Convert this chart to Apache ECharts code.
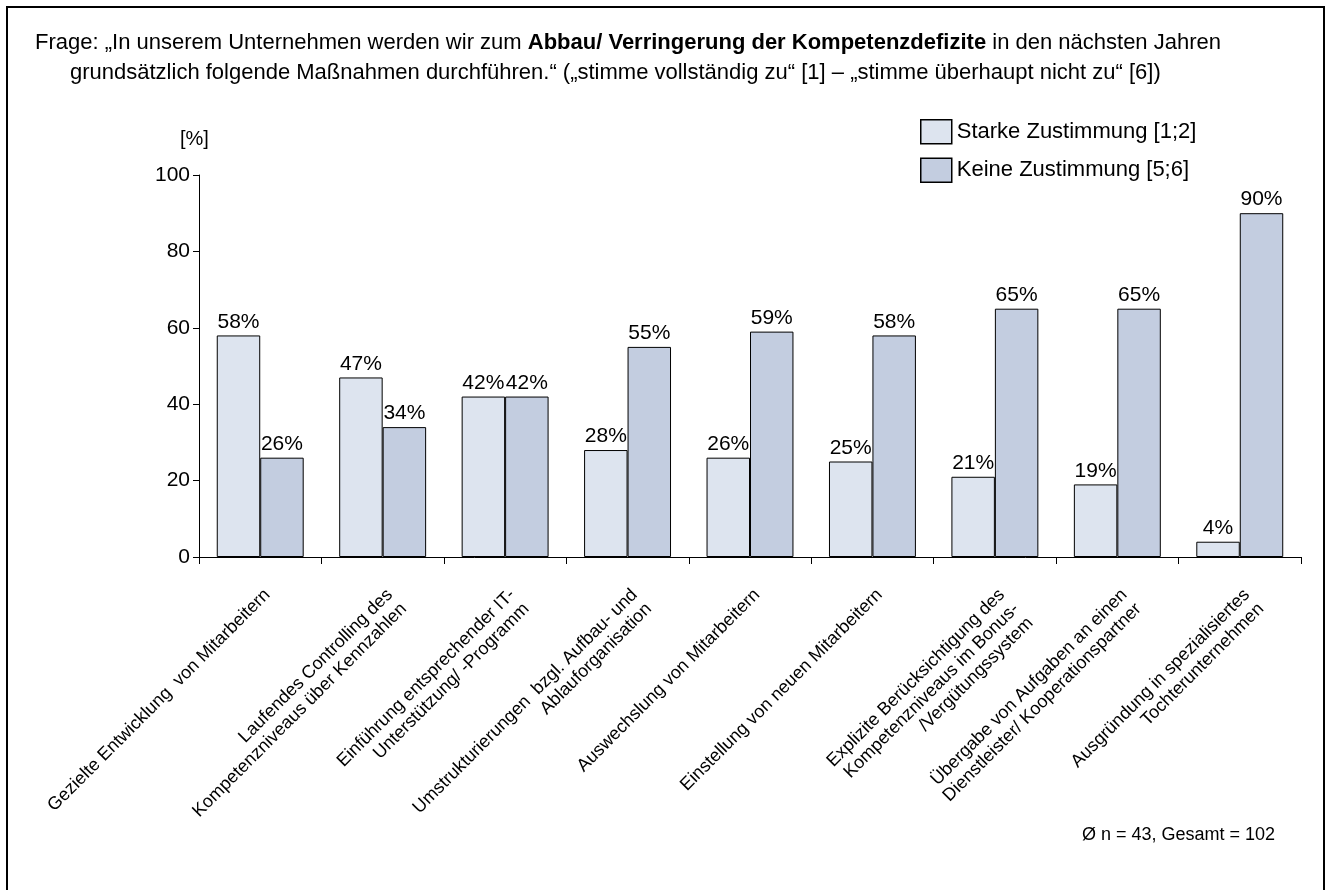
<!DOCTYPE html>
<html>
<head>
<meta charset="utf-8">
<script src="https://cdn.jsdelivr.net/npm/echarts@6.0.0/dist/echarts.min.js"></script>
<style>
  html, body { margin: 0; padding: 0; background: #fff; }
  #main { width: 1328px; height: 890px; }
</style>
</head>
<body>
<div id="main"></div>
<script>
// Kategorien (Maßnahmen)
var categories = [
  'Gezielte Entwicklung  von Mitarbeitern',
  'Laufendes Controlling des\nKompetenzniveaus über Kennzahlen',
  'Einführung entsprechender IT-\nUnterstützung/ -Programm',
  'Umstrukturierungen  bzgl. Aufbau- und\nAblauforganisation',
  'Auswechslung von Mitarbeitern',
  'Einstellung von neuen Mitarbeitern',
  'Explizite Berücksichtigung des\nKompetenzniveaus im Bonus-\n/Vergütungssystem',
  'Übergabe von Aufgaben an einen\nDienstleister/ Kooperationspartner',
  'Ausgründung in spezialisiertes\nTochterunternehmen'
];
var seriesNames = ['Starke Zustimmung [1;2]', 'Keine Zustimmung [5;6]'];
var starke = [58, 47, 42, 28, 26, 25, 21, 19, 4];
var keine = [26, 34, 42, 55, 59, 58, 65, 65, 90];
var yMin = 0, yMax = 100, yStep = 20;

var titleLine1 = ['Frage: „In unserem Unternehmen werden wir zum ', 'Abbau/ Verringerung der Kompetenzdefizite', ' in den nächsten Jahren'];
var titleLine2 = 'grundsätzlich folgende Maßnahmen durchführen.“ („stimme vollständig zu“ [1] – „stimme überhaupt nicht zu“ [6])';
var footnote = 'Ø n = 43, Gesamt = 102';

var font = "'Liberation Sans', Arial, sans-serif";

var myChart = echarts.init(document.getElementById('main'));

var option = {
  backgroundColor: '#fff',
  animation: false,
  textStyle: { fontFamily: font, color: '#000' },
  grid: { left: 199, right: 27, top: 175, bottom: 333 },
  legend: {
    data: seriesNames,
    orient: 'vertical',
    left: 915,
    top: 114,
    itemWidth: 31,
    itemHeight: 24,
    itemGap: 13,
    icon: 'rect',
    itemStyle: { borderColor: '#000', borderWidth: 1.5 },
    textStyle: { fontSize: 22, color: '#000', fontFamily: font }
  },
  xAxis: {
    type: 'category',
    data: categories,
    axisLine: { lineStyle: { color: '#000', width: 1 } },
    axisTick: { show: true, length: 7, lineStyle: { color: '#000' } },
    axisLabel: {
      rotate: 45,
      interval: 0,
      margin: 28,
      fontSize: 18,
      color: '#000',
      fontFamily: font,
      align: 'right',
      verticalAlign: 'top',
      lineHeight: 20
    }
  },
  yAxis: {
    type: 'value',
    min: yMin,
    max: yMax,
    interval: yStep,
    axisLine: { show: true, lineStyle: { color: '#000', width: 1 } },
    axisTick: { show: true, length: 6, lineStyle: { color: '#000' } },
    splitLine: { show: false },
    axisLabel: { fontSize: 21, color: '#000', margin: 9, fontFamily: font }
  },
  series: [
    {
      name: seriesNames[0],
      type: 'bar',
      data: starke,
      barGap: '0%',
      barCategoryGap: '29%',
      itemStyle: { color: '#dde4ef', borderColor: '#000', borderWidth: 1 },
      label: { show: true, position: 'top', formatter: '{c}%', fontSize: 21, color: '#000', distance: 3, fontFamily: font }
    },
    {
      name: seriesNames[1],
      type: 'bar',
      data: keine,
      barGap: '0%',
      barCategoryGap: '29%',
      itemStyle: { color: '#c3cde0', borderColor: '#000', borderWidth: 1 },
      label: { show: true, position: 'top', formatter: '{c}%', fontSize: 21, color: '#000', distance: 3, fontFamily: font }
    }
  ],
  graphic: [
    {
      type: 'rect',
      shape: { x: 7, y: 7, width: 1317, height: 900 },
      style: { fill: 'none', stroke: '#000', lineWidth: 2 },
      silent: true
    },
    {
      type: 'text',
      left: 35,
      top: 32,
      style: {
        text: '{n|' + titleLine1[0] + '}{b|' + titleLine1[1] + '}{n|' + titleLine1[2] + '}',
        rich: {
          n: { fontSize: 22, fontFamily: font, fill: '#000' },
          b: { fontSize: 22, fontFamily: font, fontWeight: 'bold', fill: '#000' }
        }
      }
    },
    {
      type: 'text',
      left: 70,
      top: 62,
      style: { text: titleLine2, fontSize: 22, fontFamily: font, fill: '#000' }
    },
    {
      type: 'text',
      left: 180,
      top: 129,
      style: { text: '[%]', fontSize: 20, fontFamily: font, fill: '#000' }
    },
    {
      type: 'text',
      left: 1082,
      top: 826,
      style: { text: footnote, fontSize: 18, fontFamily: font, fill: '#000' }
    }
  ]
};

option && myChart.setOption(option);
</script>
</body>
</html>
